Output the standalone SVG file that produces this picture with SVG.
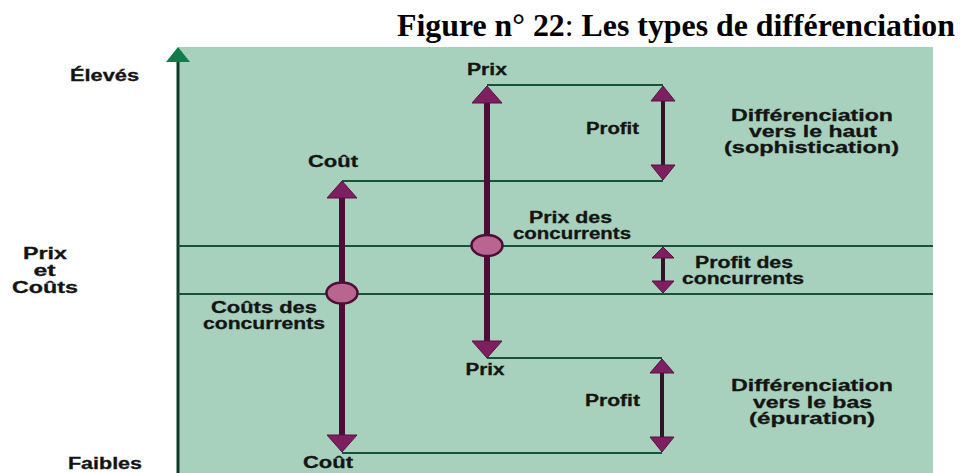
<svg xmlns="http://www.w3.org/2000/svg" width="960" height="473" viewBox="0 0 960 473">
<style>
.lbl{font-family:"Liberation Sans",Arial,sans-serif;font-weight:bold;font-size:16px;fill:#141414;text-anchor:middle;stroke:#141414;stroke-width:0.3}
.hl{stroke:#17523b;stroke-width:2;fill:none}
.shaft{stroke:#4e0c37;stroke-width:6}
.pshaft{stroke:#2e1628;stroke-width:4}
.head{fill:#7e1f60;stroke:#5a1044;stroke-width:1}
.dot{fill:#b8668f;stroke:#4e0c37;stroke-width:2.5}
</style>
<rect width="960" height="473" fill="#ffffff"/>
<text x="397" y="36" font-family="'Liberation Serif','Times New Roman',serif" font-weight="bold" font-size="32" fill="#000" textLength="558" lengthAdjust="spacingAndGlyphs">Figure n° 22<tspan font-weight="normal">:</tspan> Les types de différenciation</text>
<rect id="chart-bg" x="178" y="47" width="755" height="426" fill="#a7d1bc"/>
<g id="axis">
<line x1="178" y1="60" x2="178" y2="473" stroke="#0e3a27" stroke-width="3"/>
<polygon points="178,47 166,62 190,62" fill="#137a4c"/>
</g>
<g id="connectors">
<line class="hl" x1="487" y1="85" x2="663" y2="85"/>
<line class="hl" x1="342" y1="181" x2="663" y2="181"/>
<line class="hl" x1="178" y1="246" x2="933" y2="246"/>
<line class="hl" x1="178" y1="294" x2="933" y2="294"/>
<line class="hl" x1="487" y1="358" x2="662" y2="358"/>
<line class="hl" x1="342" y1="453" x2="662" y2="453"/>
</g>
<g id="arrow-cout">
<line class="shaft" x1="342" y1="196" x2="342" y2="437"/>
<ellipse class="dot" cx="342" cy="293" rx="15.5" ry="10.5"/>
<polygon class="head" points="342,181 327,198 357,198"/>
<polygon class="head" points="342,452 327,435 357,435"/>
</g>
<g id="arrow-prix">
<line class="shaft" x1="487" y1="101" x2="487" y2="343"/>
<ellipse class="dot" cx="487" cy="245.5" rx="15.5" ry="10.5"/>
<polygon class="head" points="487,86 472,103 502,103"/>
<polygon class="head" points="487,358 472,341 502,341"/>
</g>
<g id="arrow-profit-haut">
<line class="pshaft" x1="663" y1="100" x2="663" y2="166"/>
<polygon class="head" points="663,86 651,101 675,101"/>
<polygon class="head" points="663,180 651,165 675,165"/>
</g>
<g id="arrow-profit-concurrents">
<line class="pshaft" x1="663" y1="256" x2="663" y2="283"/>
<polygon class="head" points="663,247 652,258 674,258"/>
<polygon class="head" points="663,293 652,281 674,281"/>
</g>
<g id="arrow-profit-bas">
<line class="pshaft" x1="662" y1="372" x2="662" y2="438"/>
<polygon class="head" points="662,359 650,373 674,373"/>
<polygon class="head" points="662,452 650,437 674,437"/>
</g>
<g id="label-eleves"><text class="lbl" x="104.5" y="81" textLength="69" lengthAdjust="spacingAndGlyphs">Élevés</text></g>
<g id="label-prix-couts">
<text class="lbl" x="45" y="259" textLength="44" lengthAdjust="spacingAndGlyphs">Prix</text>
<text class="lbl" x="44.5" y="276" textLength="22" lengthAdjust="spacingAndGlyphs">et</text>
<text class="lbl" x="45" y="293" textLength="66" lengthAdjust="spacingAndGlyphs">Coûts</text>
</g>
<g id="label-faibles"><text class="lbl" x="105" y="469" textLength="74" lengthAdjust="spacingAndGlyphs">Faibles</text></g>
<g id="label-prix-haut"><text class="lbl" x="487" y="75" textLength="40" lengthAdjust="spacingAndGlyphs">Prix</text></g>
<g id="label-cout-haut"><text class="lbl" x="333" y="167" textLength="50" lengthAdjust="spacingAndGlyphs">Coût</text></g>
<g id="label-profit-haut"><text class="lbl" x="612.5" y="134" textLength="53" lengthAdjust="spacingAndGlyphs">Profit</text></g>
<g id="label-diff-haut">
<text class="lbl" x="812" y="121" textLength="162" lengthAdjust="spacingAndGlyphs">Différenciation</text>
<text class="lbl" x="813" y="137" textLength="128" lengthAdjust="spacingAndGlyphs">vers le haut</text>
<text class="lbl" x="811.5" y="153" textLength="175" lengthAdjust="spacingAndGlyphs">(sophistication)</text>
</g>
<g id="label-prix-concurrents">
<text class="lbl" x="570.5" y="223" textLength="83" lengthAdjust="spacingAndGlyphs">Prix des</text>
<text class="lbl" x="572" y="239" textLength="118" lengthAdjust="spacingAndGlyphs">concurrents</text>
</g>
<g id="label-profit-concurrents">
<text class="lbl" x="744" y="268" textLength="98" lengthAdjust="spacingAndGlyphs">Profit des</text>
<text class="lbl" x="743" y="284" textLength="122" lengthAdjust="spacingAndGlyphs">concurrents</text>
</g>
<g id="label-couts-concurrents">
<text class="lbl" x="264" y="313" textLength="106" lengthAdjust="spacingAndGlyphs">Coûts des</text>
<text class="lbl" x="264" y="329" textLength="122" lengthAdjust="spacingAndGlyphs">concurrents</text>
</g>
<g id="label-prix-bas"><text class="lbl" x="485" y="375" textLength="39" lengthAdjust="spacingAndGlyphs">Prix</text></g>
<g id="label-profit-bas"><text class="lbl" x="612.5" y="406" textLength="55" lengthAdjust="spacingAndGlyphs">Profit</text></g>
<g id="label-diff-bas">
<text class="lbl" x="812" y="391" textLength="162" lengthAdjust="spacingAndGlyphs">Différenciation</text>
<text class="lbl" x="812.5" y="408" textLength="119" lengthAdjust="spacingAndGlyphs">vers le bas</text>
<text class="lbl" x="812" y="424" textLength="126" lengthAdjust="spacingAndGlyphs">(épuration)</text>
</g>
<g id="label-cout-bas"><text class="lbl" x="328" y="468" textLength="50" lengthAdjust="spacingAndGlyphs">Coût</text></g>
</svg>
